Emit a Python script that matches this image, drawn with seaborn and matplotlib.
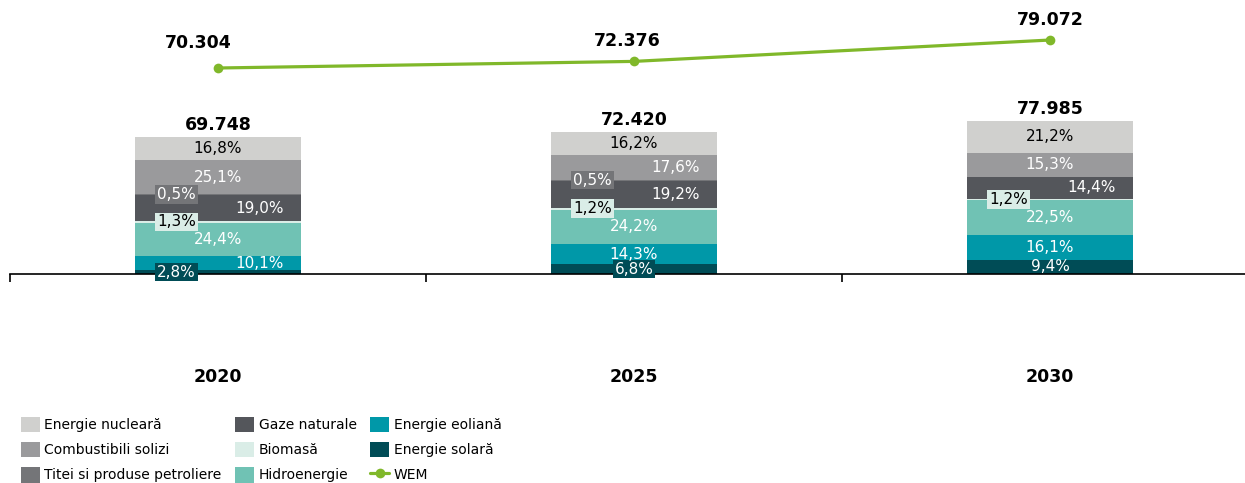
import numpy as np
import pandas as pd
import matplotlib
matplotlib.use("Agg")
import matplotlib.pyplot as plt
from matplotlib.patches import Patch
from matplotlib.lines import Line2D
from matplotlib.transforms import blended_transform_factory
import seaborn as sns

# ---- data -------------------------------------------------------------
years = ["2020", "2025", "2030"]
totals = [69748, 72420, 77985]          # total production (bars)
wem = [70304, 72376, 79072]             # WEM scenario (line)

# shares (%) per source, stacked bottom -> top
sources = ["Energie solară", "Energie eoliană", "Hidroenergie", "Biomasă",
           "Gaze naturale", "Titei si produse petroliere",
           "Combustibili solizi", "Energie nucleară"]
solar = [2.8, 6.8, 9.4]
wind = [10.1, 14.3, 16.1]
hydro = [24.4, 24.2, 22.5]
biomass = [1.3, 1.2, 1.2]
gas = [19.0, 19.2, 14.4]
oil = [0.5, 0.5, 0.0]
solid = [25.1, 17.6, 15.3]
nuclear = [16.8, 16.2, 21.2]
shares = [solar, wind, hydro, biomass, gas, oil, solid, nuclear]

# ---- styling ----------------------------------------------------------
colors = ["#004c56", "#0098a8", "#70c2b4", "#daede7",
          "#54565b", "#747578", "#9a9a9c", "#d0d0ce"]
text_colors = ["white", "white", "white", "black",
               "white", "white", "white", "black"]
# horizontal label shift per source and year (in fractions of a category step)
label_shift = [[-0.1, 0.0, 0.0], [0.1, 0.0, 0.0], [0.0, 0.0, 0.0],
               [-0.1, -0.1, -0.1], [0.1, 0.1, 0.1], [-0.1, -0.1, 0.0],
               [0.0, 0.1, 0.0], [0.0, 0.0, 0.0]]
wem_label_offset = [(-20, 25), (-7, 20), (0, 20)]
line_color = "#80b82a"

sns.set_theme(style="white")
plt.rcParams["font.family"] = ["DejaVu Sans"]
plt.rcParams["text.color"] = "black"

W, H = 1245, 483
fig = plt.figure(figsize=(W / 100, H / 100), dpi=100)
ax_l, ax_r, ax_t, ax_b = 10, 1258, 5, 395
ax = fig.add_axes([ax_l / W, 1 - ax_b / H, (ax_r - ax_l) / W, (ax_b - ax_t) / H])

def fmt(v):
    return f"{v:,}".replace(",", ".")

# ---- stacked bars (cumulative layers, tallest first) -------------------
seg = np.array([[t * s[i] / 100 for i, t in enumerate(totals)] for s in shares])
cum = np.cumsum(seg, axis=0)
for k in range(len(sources) - 1, -1, -1):
    df = pd.DataFrame({"year": years, "value": cum[k]})
    sns.barplot(data=df, x="year", y="value", color=colors[k], width=0.4,
                saturation=1, linewidth=0, errorbar=None, ax=ax, zorder=2)

# primary scale: 0 at pixel 274, ~1.965 px per unit (thousands)
px_per_unit = 1.965 / 1000
zero_px = 274
ax.set_ylim(-(ax_b - zero_px) / px_per_unit, (zero_px - ax_t) / px_per_unit)
ax.set_xlim(-0.5, 2.5)

# segment labels
for k in range(len(sources)):
    for i in range(len(years)):
        p = shares[k][i]
        if p <= 0:
            continue
        yc = cum[k][i] - seg[k][i] / 2
        box = None
        if p < 8:
            box = dict(boxstyle="square,pad=0.12", fc=colors[k], ec="none")
        ax.text(i + label_shift[k][i], yc, f"{p:.1f}%".replace(".", ","),
                ha="center", va="center", fontsize=11,
                color=text_colors[k], bbox=box, zorder=4)

# totals above bars
for i, t in enumerate(totals):
    ax.annotate(fmt(t), (i, t), xytext=(0, 12), textcoords="offset pixels",
                ha="center", va="center", fontsize=12.5, fontweight="bold",
                color="black", zorder=5)

# axis styling
for s in ["left", "right", "top"]:
    ax.spines[s].set_visible(False)
ax.spines["bottom"].set_position(("data", 0))
ax.spines["bottom"].set_color("black")
ax.spines["bottom"].set_linewidth(1.2)
ax.spines["bottom"].set_zorder(3)
ax.set_xticks([-0.5, 0.5, 1.5, 2.5])
ax.set_xticklabels([])
ax.tick_params(axis="x", bottom=True, direction="out", length=6,
               width=1.2, color="black")
ax.set_yticks([])
ax.set_xlabel("")
ax.set_ylabel("")

trans = blended_transform_factory(ax.transData, ax.transAxes)
for i, y in enumerate(years):
    ax.text(i, (ax_b - 377) / (ax_b - ax_t), y, transform=trans,
            ha="center", va="center", fontsize=12.5, fontweight="bold",
            color="black")

# ---- WEM line on secondary axis ---------------------------------------
ax2 = ax.twinx()
wdf = pd.DataFrame({"x": np.arange(len(years)), "wem": wem})
sns.lineplot(data=wdf, x="x", y="wem", color=line_color, linewidth=2.3,
             marker="o", markersize=7, markeredgewidth=0, ax=ax2)
sec_px_per_unit = 3.19 / 1000
ref_px = 68
ax2.set_ylim(wem[0] - (ax_b - ref_px) / sec_px_per_unit,
             wem[0] + (ref_px - ax_t) / sec_px_per_unit)
ax2.set_xlim(-0.5, 2.5)
for i, v in enumerate(wem):
    ax2.annotate(fmt(v), (i, v), xytext=wem_label_offset[i],
                 textcoords="offset pixels", ha="center", va="center",
                 fontsize=12.5, fontweight="bold", color="black")
ax2.axis("off")

# ---- legend -------------------------------------------------------------
order = ["Energie nucleară", "Combustibili solizi", "Titei si produse petroliere",
         "Gaze naturale", "Biomasă", "Hidroenergie",
         "Energie eoliană", "Energie solară"]
handles = [Patch(facecolor=colors[sources.index(n)], edgecolor="none", label=n)
           for n in order]
handles.append(Line2D([0], [0], color=line_color, linewidth=2.3, marker="o",
                      markersize=7, markeredgewidth=0, label="WEM"))
fig.legend(handles=handles, ncol=3, loc="upper left",
           bbox_to_anchor=(21 / W, 1 - 416.5 / H), frameon=False,
           fontsize=10, handlelength=1.37, handleheight=1.37,
           handletextpad=0.3, columnspacing=1.0, labelspacing=0.68,
           borderpad=0, borderaxespad=0, labelcolor="black")

fig.savefig("out.png", dpi=100)
